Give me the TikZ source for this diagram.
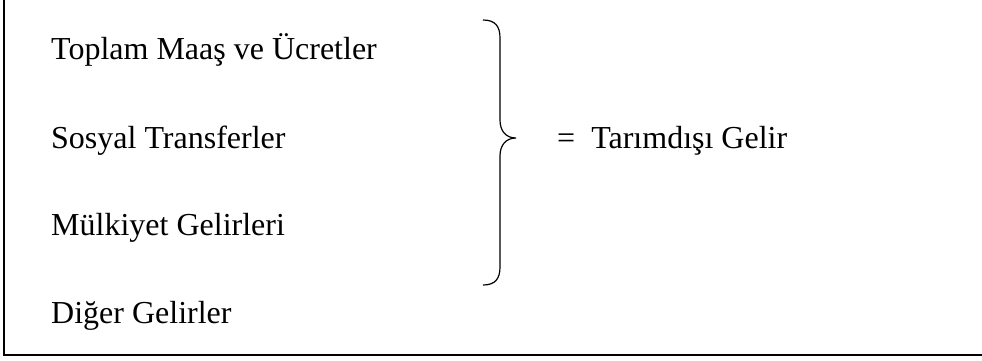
\documentclass[tikz,border=0pt]{standalone}
\usepackage{fontspec}
\setmainfont{Liberation Serif}
\begin{document}
\begin{tikzpicture}[
    x=1pt, y=-1pt,
    every node/.style={anchor=base west, inner sep=0pt, font=\fontsize{32}{38}\selectfont},
]
  \useasboundingbox (0,0) rectangle (982,360);
  \draw [line width=2pt] (4,0) -- (4,355) -- (982,355);
  \node (maas)     at (51, 59) {Toplam Maaş ve Ücretler};
  \node (sosyal)   at (51,148) {Sosyal Transferler};
  \node (mulkiyet) at (51,235) {Mülkiyet Gelirleri};
  \node (diger)    at (51,323) {Diğer Gelirler};
  \node (gelir)    at (557,148) {=\ \ Tarımdışı Gelir};
  \draw [line width=1.2pt] (483,20) .. controls (495,20) and (500,26) .. (500,38)
        -- (500,120) .. controls (500,131) and (506,138) .. (516,138)
        .. controls (506,138) and (500,145) .. (500,156)
        -- (500,267) .. controls (500,279) and (495,285) .. (483,285);
\end{tikzpicture}
\end{document}
